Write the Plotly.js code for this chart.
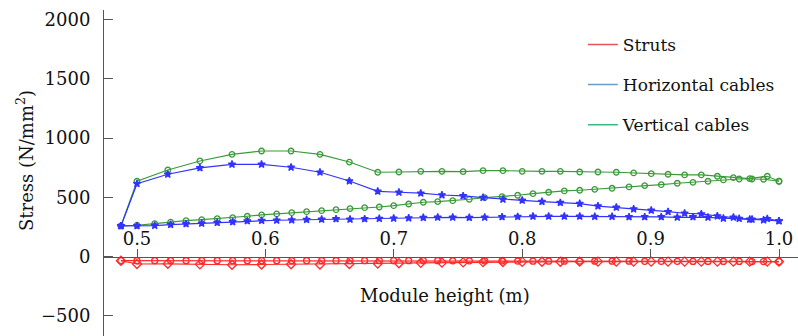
<!DOCTYPE html>
<html>
<head>
<meta charset="utf-8">
<script src="https://cdn.plot.ly/plotly-3.0.1.min.js"></script>
<style>html,body{margin:0;padding:0;background:#fff}#chart{width:798px;height:336px}</style>
</head>
<body>
<div id="chart"></div>
<script>
// Upper branch (fewer points)
const upperX = [0.4875, 0.5, 0.524, 0.549, 0.574, 0.597, 0.620, 0.6425, 0.6654, 0.6875, 0.704, 0.721, 0.7375, 0.754, 0.7695, 0.785, 0.800, 0.8154, 0.8297, 0.8448, 0.859, 0.8733, 0.8868, 0.9005, 0.9136, 0.9265, 0.9395, 0.952, 0.9645, 0.9772, 0.9909, 1.0];
const greenUpper = [259, 636, 731, 807, 863, 891, 891, 863, 798, 712, 714, 720, 720, 717, 725, 725, 720, 720, 720, 714, 714, 712, 706, 700, 695, 689, 689, 678, 666, 658, 678, 636];
const blueUpper = [259, 615, 695, 748, 779, 779, 754, 712, 638, 551, 543, 535, 520, 512, 498, 484, 475, 464, 455, 447, 427, 416, 402, 391, 379, 366, 360, 343, 332, 315, 320, 301];
const redUpperBranch = [-34, -62, -60, -65, -68, -66, -64, -66, -62, -58, -55, -52, -50, -48, -46, -45, -44, -43, -43, -42, -42, -42, -42, -42, -42, -42, -42, -42, -42, -42, -42, -42];

// Lower branch (denser points)
const lowerX = [0.4875, 0.5, 0.5138, 0.5262, 0.5382, 0.5504, 0.5625, 0.5745, 0.5859, 0.5971, 0.6088, 0.6205, 0.6321, 0.6438, 0.655, 0.6659, 0.6773, 0.6887, 0.6999, 0.7116, 0.723, 0.7342, 0.7459, 0.7588, 0.7708, 0.7843, 0.7965, 0.8084, 0.8206, 0.8328, 0.8448, 0.8565, 0.870, 0.8832, 0.8954, 0.9083, 0.9208, 0.933, 0.9447, 0.9567, 0.969, 0.979, 0.988, 1.0];
const greenLower = [259, 265, 278, 292, 304, 312, 320, 329, 341, 352, 360, 371, 379, 388, 396, 405, 413, 419, 430, 444, 459, 464, 472, 484, 498, 506, 518, 531, 543, 554, 560, 568, 577, 588, 599, 607, 619, 627, 636, 647, 655, 655, 653, 636];
const blueLower = [259, 259, 262, 270, 276, 281, 287, 293, 301, 304, 307, 309, 312, 315, 318, 315, 318, 321, 324, 326, 329, 332, 332, 329, 332, 335, 337, 340, 340, 340, 340, 338, 338, 335, 335, 335, 332, 335, 332, 324, 321, 315, 309, 301];
const redLowerBranch = [-34, -34, -34, -34, -34, -34, -34, -34, -34, -34, -34, -34, -34, -34, -34, -34, -34, -34, -34, -34, -34, -34, -35, -35, -36, -36, -37, -38, -38, -38, -38, -38, -38, -38, -39, -39, -39, -40, -40, -40, -40, -41, -41, -42];

const legendNames = ['Struts', 'Horizontal cables', 'Vertical cables'];
const legendColors = ['#e8525a', '#6b9cc8', '#3dbb7e'];
const xTicks = [0.5, 0.6, 0.7, 0.8, 0.9, 1.0];
const yTicks = [-500, 0, 500, 1000, 1500, 2000];

const FONT = 'DejaVu Serif';
const FS = 18;
const RED = '#ff2a2a', BLUE = '#3333ff', GREEN = '#3a9a3a';

function tr(x, y, color, symbol, size) {
  return {x: x, y: y, type: 'scatter', mode: 'lines+markers', showlegend: false, hoverinfo: 'skip',
    line: {color: color, width: 1.2},
    marker: {symbol: symbol, size: size, color: color, line: {color: color, width: 1.3}}};
}
const traces = [
  tr(lowerX, greenLower, GREEN, 'circle-open', 5.5),
  tr(upperX, greenUpper, GREEN, 'circle-open', 5.5),
  tr(lowerX, blueLower, BLUE, 'star', 5.5),
  tr(upperX, blueUpper, BLUE, 'star', 5.5),
  tr(lowerX, redLowerBranch, RED, 'circle-open', 6),
  tr(upperX, redUpperBranch, RED, 'diamond-open', 7)
];
legendNames.forEach((n, i) => {
  traces.push({x: [null], y: [null], type: 'scatter', mode: 'lines', name: n, legendgroup: 'g' + i,
    line: {color: legendColors[i], width: 1.5}, showlegend: true});
});

const yMin = -669, yMax = 2080;
const layout = {
  width: 798, height: 336,
  margin: {l: 104, r: 0, t: 10, b: 0},
  paper_bgcolor: '#fff', plot_bgcolor: '#fff',
  font: {family: FONT, size: FS, color: '#111'},
  showlegend: true,
  legend: {x: 0.69, y: 0.948, xanchor: 'left', yanchor: 'top', font: {family: FONT, size: 17, color: '#111'},
    bgcolor: 'rgba(0,0,0,0)', traceorder: 'grouped', tracegroupgap: 15},
  xaxis: {range: [0.4743, 1.0148], side: 'top', anchor: 'free', position: (0 - yMin) / (yMax - yMin),
    tickvals: xTicks, ticktext: xTicks.map(v => v.toFixed(1)), ticks: 'outside', ticklen: 8, tickcolor: '#555', tickwidth: 1,
    showline: true, linecolor: '#555', linewidth: 1, showgrid: false, zeroline: false,
    tickfont: {family: FONT, size: FS, color: '#111'}, ticklabelstandoff: -4},
  yaxis: {range: [yMin, yMax], tickvals: yTicks, ticks: 'inside', ticklen: 9, tickcolor: '#555', tickwidth: 1,
    showline: true, linecolor: '#555', linewidth: 1, showgrid: false, zeroline: false,
    tickfont: {family: FONT, size: FS, color: '#111'}, ticklabelstandoff: 9},
  annotations: [
    {text: 'Module height (m)', xref: 'paper', yref: 'paper', x: (445 - 104) / 694, y: (336 - 295) / 326,
      xanchor: 'center', yanchor: 'middle', showarrow: false, font: {family: FONT, size: FS, color: '#111'}},
    {text: 'Stress (N/mm<sup>2</sup>)', xref: 'paper', yref: 'paper', x: (25 - 104) / 694, y: (336 - 161) / 326,
      xanchor: 'center', yanchor: 'middle', textangle: -90, showarrow: false, font: {family: FONT, size: FS, color: '#111'}}
  ]
};
Plotly.newPlot('chart', traces, layout, {displayModeBar: false, staticPlot: true});
</script>
</body>
</html>
